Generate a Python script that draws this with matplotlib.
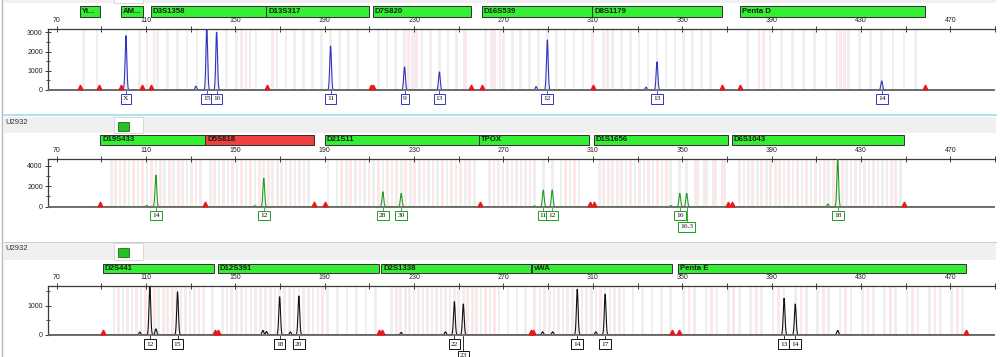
import matplotlib
matplotlib.use('Agg')
import matplotlib.pyplot as plt
import numpy as np
from matplotlib.patches import Rectangle
from matplotlib.transforms import blended_transform_factory, ScaledTranslation

W, H = 1000, 357
XMIN, XMAX = 66.25, 489.4

# ---------------- data ----------------
x_major = [70, 110, 150, 190, 230, 270, 310, 350, 390, 430, 470]
x_minor = [90, 130, 170, 210, 250, 290, 330, 370, 410, 450, 490]

# panel 1 (blue dye)
p1_markers = ['Yi...', 'AM...', 'D3S1358', 'D13S317', 'D7S820', 'D16S539', 'D8S1179', 'Penta D']
p1_start = [80.6, 98.6, 112.0, 163.9, 211.5, 260.2, 309.8, 375.8]
p1_end = [89.4, 108.7, 163.9, 210.0, 255.5, 309.8, 368.0, 458.8]
p1_mcolor = ['g', 'g', 'g', 'g', 'g', 'g', 'g', 'g']
p1_peak_bp = [101.0, 137.2, 141.6, 192.6, 225.7, 241.3, 289.6, 338.7, 439.3]
p1_peak_h = [2820, 3150, 3000, 2290, 1200, 940, 2600, 1460, 470]
p1_alleles = ['X', '15', '16', '11', '9', '13', '12', '13', '14']
p1_level = [0, 0, 0, 0, 0, 0, 0, 0, 0]
p1_small_bp = [132.3, 284.6, 333.8]
p1_small_h = [200, 180, 150]
p1_flags = [80.4, 89.0, 98.6, 108.4, 112.0, 164.3, 210.8, 211.7, 255.5, 260.2, 310.0, 368.0, 375.8, 458.8]
p1_bins = [82, 88, 101, 107,
           115.2, 119.6, 124.0, 128.4, 132.8, 137.2, 141.6, 146.0, 150.4, 154.8, 159.2,
           168.6, 172.6, 176.6, 180.6, 184.6, 188.6, 192.6, 196.6, 200.6, 204.6,
           214.0, 217.9, 221.8, 225.7, 229.6, 233.5, 237.4, 241.3, 245.2, 249.1, 253.0,
           262.0, 266.0, 270.0, 274.0, 277.6, 281.6, 285.6, 289.6, 293.6, 297.6, 301.6, 305.6,
           314.7, 318.7, 322.7, 326.7, 330.7, 334.7, 338.7, 342.7, 346.7, 350.7, 354.7, 358.7, 362.7,
           379.3, 384.3, 389.3, 394.3, 399.3, 404.3, 409.3, 414.3, 419.3, 424.3, 429.3, 434.3,
           439.3, 444.3, 449.3, 454.3]
p1_pink = [110.5, 113.5, 152.6, 156.5, 166.6, 227.5, 229.0, 231.0, 252.4, 264.5, 268.5,
           309.8, 316.7, 384.3, 386.3, 420.8, 422.5]

# panel 2 (green dye)
p2_markers = ['D19S433', 'D5S818', 'D21S11', 'TPOX', 'D1S1656', 'D6S1043']
p2_start = [89.4, 136.6, 189.9, 259.2, 310.3, 372.1]
p2_end = [136.6, 185.0, 259.2, 308.3, 370.6, 449.1]
p2_mcolor = ['g', 'r', 'g', 'g', 'g', 'g']
p2_peak_bp = [114.4, 162.7, 216.0, 224.2, 287.8, 291.8, 348.9, 352.0, 419.6]
p2_peak_h = [3090, 2770, 1460, 1300, 1630, 1630, 1300, 1300, 4700]
p2_alleles = ['14', '12', '28', '30', '11', '12', '16', '16.3', '18']
p2_level = [0, 0, 0, 0, 0, 0, 0, 1, 0]
p2_small_bp = [110.2, 158.6, 283.8, 344.9, 415.2]
p2_small_h = [110, 90, 80, 110, 260]
p2_flags = [89.4, 136.6, 185.0, 189.9, 259.5, 308.7, 310.3, 370.6, 372.1, 449.1]
p2_bins = [94.4, 98.4, 102.4, 106.4, 110.4, 114.4, 118.4, 122.4, 126.4, 130.4, 134.4,
           138.7, 142.7, 146.7, 150.7, 154.7, 158.7, 162.7, 166.7, 170.7, 174.7, 178.7, 182.7,
           191.4, 195.5, 199.6, 203.7, 207.8, 211.9, 216.0, 220.1, 224.2, 228.3, 232.4, 236.5,
           240.6, 244.7, 248.8, 252.9, 257.0,
           263.8, 267.8, 271.8, 275.8, 279.8, 283.8, 287.8, 291.8, 295.8, 299.8, 303.8,
           312.9, 316.9, 320.9, 324.9, 328.9, 332.9, 336.9, 340.9, 344.9, 348.9, 352.0, 356.9,
           360.9, 364.9, 368.9,
           375.6, 379.6, 383.6, 387.6, 391.6, 395.6, 399.6, 403.6, 407.6, 411.6, 415.6, 419.6,
           423.6, 427.6, 431.6, 435.6, 439.6, 443.6, 447.6]
p2_pink = [96.4, 100.4, 104.4, 108.4, 112.4, 116.4, 120.4, 124.4, 128.4, 132.4,
           140.7, 144.7, 148.7, 152.7, 156.7, 160.7, 164.7, 168.7, 172.7, 176.7, 180.7,
           197.5, 201.6, 205.7, 209.8, 213.9, 218.0, 222.1, 226.2, 230.3, 234.4, 238.5, 242.6,
           246.7, 250.8, 254.9, 265.8, 269.8, 273.8, 277.8, 281.8, 297.8, 301.8,
           314.9, 318.9, 322.9, 326.9, 330.9, 334.9, 338.9, 342.9, 355.9, 359.9, 363.9, 367.9,
           377.6, 381.6, 385.6, 389.6, 393.6, 397.6, 401.6, 405.6, 409.6, 413.6, 417.6, 421.6,
           425.6, 429.6, 433.6, 437.6, 441.6, 445.6]

# panel 3 (black / yellow dye)
p3_markers = ['D2S441', 'D12S391', 'D2S1338', 'vWA', 'Penta E']
p3_start = [90.6, 142.0, 215.3, 282.7, 348.3]
p3_end = [140.4, 214.1, 282.3, 345.6, 477.0]
p3_mcolor = ['g', 'g', 'g', 'g', 'g']
p3_peak_bp = [111.7, 124.1, 169.8, 178.4, 248.0, 252.0, 303.0, 315.5, 395.6, 400.6]
p3_peak_h = [1660, 1480, 1310, 1335, 1140, 1060, 1565, 1400, 1255, 1060]
p3_alleles = ['12', '15', '18', '20', '22', '23', '14', '17', '13', '14']
p3_level = [0, 0, 0, 0, 0, 1, 0, 0, 0, 0]
p3_small_bp = [107.2, 114.4, 162.3, 163.9, 174.6, 224.2, 244.0, 287.5, 292.0, 311.3, 419.6]
p3_small_h = [90, 200, 150, 110, 100, 80, 100, 100, 100, 100, 150]
p3_flags = [90.6, 140.8, 142.0, 214.2, 215.5, 282.3, 283.3, 345.6, 348.6, 477.0]
p3_bins = [95.7, 99.7, 103.7, 107.7, 111.7, 115.7, 119.7, 123.7, 127.7, 131.7, 135.7, 139.7,
           144.1, 148.4, 152.7, 157.0, 161.3, 165.6, 169.8, 174.1, 178.4, 182.7, 187.0, 191.3,
           195.6, 199.9, 204.2, 208.5, 212.8,
           220.0, 224.0, 228.0, 232.0, 236.0, 240.0, 244.0, 248.0, 252.0, 256.0, 260.0, 264.0,
           268.0, 272.0, 276.0, 280.0,
           286.3, 290.5, 294.7, 298.8, 303.0, 307.2, 311.4, 315.5, 319.7, 323.9, 328.0, 332.2,
           336.4, 340.6, 344.7,
           350.6, 355.6, 360.6, 365.6, 370.6, 375.6, 380.6, 385.6, 390.6, 395.6, 400.6, 405.6,
           410.6, 415.6, 420.6, 425.6, 430.6, 435.6, 440.6, 445.6, 450.6, 455.6, 460.6, 465.6,
           470.6, 475.6]
p3_pink = [97.7, 101.7, 105.7, 109.7, 113.7, 117.7, 121.7, 125.7, 129.7, 133.7,
           146.2, 150.5, 154.8, 159.1, 163.4, 167.7, 171.9, 176.2, 180.5, 184.8, 189.1,
           222.0, 226.0, 230.0, 234.0, 238.0, 242.0, 246.0, 250.0, 254.0, 258.0, 262.0, 266.0,
           284.0, 288.4, 292.6, 296.7, 300.9, 305.1, 309.3, 313.4, 317.6, 321.8,
           353.1, 363.1, 373.1, 383.1, 393.1, 403.1, 413.1, 423.1, 433.1, 443.1, 453.1, 463.1,
           473.1]

# ---------------- figure ----------------
fig = plt.figure(figsize=(W / 100, H / 100), dpi=100)
fig.patch.set_facecolor('white')

bg = fig.add_axes([0, 0, 1, 1], zorder=0)
bg.set_xlim(0, W)
bg.set_ylim(H, 0)
bg.axis('off')

# left frame line and separators
bg.plot([2, 2], [0, H], color='#b8b8b8', lw=1.0)
bg.plot([4, 996], [115, 115], color='#9fdde6', lw=1.2)
bg.plot([4, 996], [241.5, 241.5], color='#cfcfcf', lw=0.8)
# headers
for y0, y1, txt in [(-2, 3, None), (116.5, 132.5, 'U2932'), (243, 260, 'U2932')]:
    bg.add_patch(Rectangle((4, y0), 992, y1 - y0, fc='#f0f0f0', ec='none'))
    bg.add_patch(Rectangle((114, y0), 29, y1 - y0, fc='white', ec='#d4d4d4', lw=0.6))
    if txt:
        bg.text(5, y0 + 5.5, txt, fontsize=5.5, family='Liberation Sans', color='#333333', va='center')
        bg.add_patch(Rectangle((118, y0 + 5), 11, 9, fc='#22c422', ec='#2c7a2c', lw=0.7))

dye_col = {'p1': '#3333c0', 'p2': '#1f9e1f', 'p3': '#111111'}
bar_col = {'g': '#33ee33', 'r': '#ef3f3f'}


def draw_panel(key, top_px, bot_px, base_px, ylim, yt_major, yt_minor, bar_px, lab_px,
               markers, starts, ends, mcols, peak_bp, peak_h, alleles, level,
               small_bp, small_h, flags, bins, pink):
    ax = fig.add_axes([48.3 / W, 1 - bot_px / H, (995 - 48.3) / W, (bot_px - top_px) / H], zorder=2)
    ax.patch.set_alpha(0)
    ax.set_xlim(XMIN, XMAX)
    ax.set_ylim(*ylim)
    col = dye_col[key]

    for b in bins:
        ax.axvspan(b - 0.6, b + 0.6, ymin=0.03, color='#efefef', lw=0, zorder=0)
    for b in pink:
        ax.axvspan(b - 0.6, b + 0.6, ymin=0.03, color='#fce8e8', lw=0, zorder=0)

    x = np.linspace(XMIN, XMAX, 8000)
    y = np.zeros_like(x)
    for p, h in zip(list(peak_bp) + list(small_bp), list(peak_h) + list(small_h)):
        y += h * np.exp(-0.5 * ((x - p) / 0.38) ** 2)
    ax.plot(x, y, color=col, lw=0.8, zorder=3)
    ax.axhline(0, color='#6a6a6a', lw=1.3, zorder=4)

    tri = ax.transData + ScaledTranslation(0, 1.8 / 72, fig.dpi_scale_trans)
    ax.plot(flags, [0] * len(flags), ls='none', marker='^', ms=3.4, color='#e8191b',
            mec='#e8191b', transform=tri, zorder=5, clip_on=False)

    bt = blended_transform_factory(ax.transData, fig.transFigure)
    for name, s, e, c in zip(markers, starts, ends, mcols):
        ax.add_patch(Rectangle((s, 1 - bar_px[1] / H), e - s, (bar_px[1] - bar_px[0]) / H,
                               transform=bt, fc=bar_col[c], ec='#303030', lw=0.7, clip_on=False))
        ax.text(s + 0.9, 1 - (bar_px[0] + bar_px[1]) / 2 / H, name, transform=bt, fontsize=5.6,
                fontweight='bold', family='Liberation Sans', color='#102010', va='center',
                ha='left', clip_on=False)

    for p, a, lv in zip(peak_bp, alleles, level):
        ly = lab_px + lv * 11.5
        ax.plot([p, p], [1 - (base_px + 1) / H, 1 - (ly - 4.5) / H], transform=bt, color=col,
                lw=0.6, clip_on=False, zorder=3)
        ax.text(p, 1 - ly / H, a, transform=bt, fontsize=5.4, family='Liberation Serif',
                ha='center', va='center', color='#111111', clip_on=False,
                bbox=dict(boxstyle='square,pad=0.28', fc='white', ec=col, lw=0.7))

    for sp in ['right', 'bottom']:
        ax.spines[sp].set_visible(False)
    for sp in ['left', 'top']:
        ax.spines[sp].set_color('#3a3a3a')
        ax.spines[sp].set_linewidth(0.9)
    ax.spines['left'].set_bounds(0, ylim[1])

    ax.xaxis.tick_top()
    ax.set_xticks(x_major)
    ax.set_xticks(x_minor, minor=True)
    ax.set_xticklabels([str(v) for v in x_major])
    ax.tick_params(axis='x', which='both', direction='inout', length=4, width=0.7,
                   colors='#3a3a3a', labelsize=5, pad=1.5)
    ax.set_yticks(yt_major)
    ax.set_yticks(yt_minor, minor=True)
    ax.set_yticklabels([str(v) for v in yt_major])
    ax.tick_params(axis='y', which='major', direction='inout', length=4, width=0.7,
                   colors='#3a3a3a', labelsize=5, pad=2)
    ax.tick_params(axis='y', which='minor', direction='inout', length=2.5, width=0.6,
                   colors='#3a3a3a')
    for t in ax.get_xticklabels() + ax.get_yticklabels():
        t.set_family('Liberation Sans')
        t.set_color('#222222')
    return ax


draw_panel('p1', 29.3, 92, 90, (-104, 3156), [0, 1000, 2000, 3000], [500, 1500, 2500],
           (6.5, 16.5), 99, p1_markers, p1_start, p1_end, p1_mcolor, p1_peak_bp, p1_peak_h,
           p1_alleles, p1_level, p1_small_bp, p1_small_h, p1_flags, p1_bins, p1_pink)
draw_panel('p2', 158.7, 209, 206.7, (-224, 4683), [0, 2000, 4000], [1000, 3000],
           (135, 144.5), 215.5, p2_markers, p2_start, p2_end, p2_mcolor, p2_peak_bp, p2_peak_h,
           p2_alleles, p2_level, p2_small_bp, p2_small_h, p2_flags, p2_bins, p2_pink)
draw_panel('p3', 286.3, 337, 334.7, (-79, 1669), [0, 1000], [500, 1500],
           (263.5, 273), 344, p3_markers, p3_start, p3_end, p3_mcolor, p3_peak_bp, p3_peak_h,
           p3_alleles, p3_level, p3_small_bp, p3_small_h, p3_flags, p3_bins, p3_pink)

fig.savefig('out.png', dpi=100)
